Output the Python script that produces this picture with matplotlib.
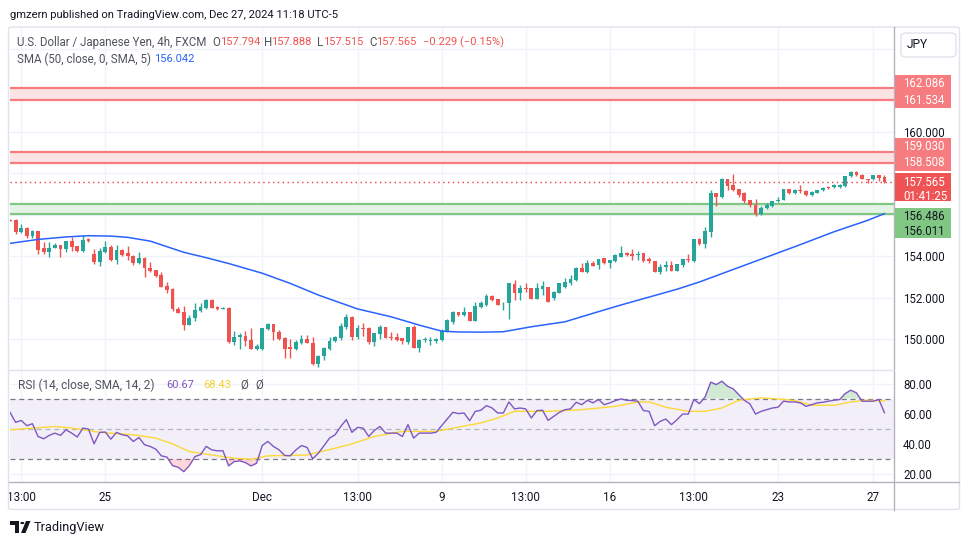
import matplotlib
matplotlib.use("Agg")
import matplotlib.pyplot as plt
from matplotlib.patches import Rectangle, FancyBboxPatch, Polygon, Circle
from matplotlib.lines import Line2D
import numpy as np

plt.rcParams['font.family'] = ['Roboto', 'DejaVu Sans']

# ---------------- data ----------------
opens = [155.75, 155.72, 155.16, 155.37, 154.95, 155.19, 154.39, 154.18, 154.39, 154.52,
         154.33, 154.71, 154.47, 154.23, 154.80, 154.09, 153.70, 154.18, 154.42, 153.83,
         154.28, 154.15, 154.02, 153.67, 153.91, 153.42, 153.32, 153.08, 152.55, 152.42,
         151.46, 151.29, 150.68, 151.00, 151.36, 151.51, 151.88, 151.56, 151.45, 151.51,
         149.85, 150.08, 150.15, 149.96, 149.51, 149.53, 150.47, 150.73, 150.36, 150.06,
         149.61, 149.53, 149.80, 150.01, 149.80, 148.81, 149.16, 149.51, 149.88, 150.04,
         150.60, 151.05, 150.09, 150.55, 150.55, 149.85, 150.25, 150.60, 150.12, 150.12,
         150.04, 149.86, 150.60, 149.59, 149.93, 149.89, 149.90, 149.93, 150.36, 150.84,
         151.32, 151.16, 151.29, 150.89, 151.53, 151.64, 152.07, 151.91, 151.72, 151.72,
         152.65, 152.23, 152.44, 152.44, 151.93, 152.40, 152.49, 151.96, 152.23, 152.52,
         152.68, 152.84, 153.44, 153.25, 153.68, 153.56, 153.91, 153.64, 153.77, 153.96,
         154.16, 154.10, 154.05, 154.13, 153.84, 153.77, 153.25, 153.45, 153.55, 153.29,
         153.56, 153.88, 153.77, 154.81, 154.57, 155.17, 157.05, 156.85, 157.69, 157.41,
         157.25, 157.03, 156.72, 156.45, 156.01, 156.33, 156.40, 156.64, 156.72, 157.21,
         157.05, 157.17, 157.13, 156.93, 157.05, 157.17, 157.33, 157.33, 157.33, 157.37,
         157.84, 158.05, 157.92, 157.73, 157.69, 157.89, 157.794]
highs = [155.77, 155.80, 155.53, 155.40, 155.27, 155.21, 154.70, 154.66, 154.65, 154.55,
         154.73, 154.92, 154.50, 155.00, 154.86, 154.36, 154.38, 154.71, 154.55, 154.52,
         154.33, 154.47, 154.05, 154.17, 153.93, 153.69, 153.35, 153.22, 152.74, 152.46,
         151.53, 151.60, 151.16, 151.75, 151.75, 151.94, 151.94, 151.61, 151.56, 151.56,
         150.39, 150.31, 150.39, 150.52, 149.77, 150.52, 150.76, 150.73, 150.41, 150.12,
         150.00, 149.96, 150.18, 150.17, 150.12, 149.24, 149.61, 150.09, 150.15, 150.76,
         151.21, 151.13, 150.68, 150.79, 150.60, 150.31, 150.68, 150.60, 150.33, 150.28,
         150.04, 150.60, 150.68, 150.00, 150.12, 150.09, 150.04, 150.47, 150.95, 151.37,
         151.32, 151.53, 151.30, 151.80, 151.85, 152.17, 152.12, 151.91, 151.76, 152.68,
         152.84, 152.58, 152.68, 152.44, 152.68, 152.80, 152.49, 152.32, 152.72, 152.92,
         153.08, 153.49, 153.64, 153.80, 153.76, 153.88, 153.91, 153.80, 154.08, 154.48,
         154.19, 154.35, 154.26, 154.13, 153.96, 153.77, 153.61, 153.76, 153.76, 153.61,
         153.88, 154.08, 154.81, 154.88, 155.41, 157.17, 157.05, 157.77, 157.73, 157.93,
         157.25, 157.09, 156.72, 156.73, 156.40, 156.57, 156.64, 156.85, 157.25, 157.25,
         157.25, 157.44, 157.17, 157.12, 157.17, 157.33, 157.37, 157.45, 157.49, 157.84,
         158.09, 158.09, 157.93, 157.73, 157.89, 157.92, 157.888]
lows = [155.67, 155.08, 155.11, 154.86, 154.86, 154.10, 154.12, 153.93, 154.37, 153.96,
        154.20, 154.25, 154.20, 154.21, 154.68, 153.61, 153.53, 154.15, 153.77, 153.61,
        153.99, 153.80, 153.58, 153.61, 153.00, 153.22, 153.00, 152.49, 152.23, 151.37,
        151.24, 150.43, 150.66, 150.87, 151.32, 151.46, 151.51, 151.40, 151.44, 149.80,
        149.72, 149.53, 149.67, 149.53, 149.45, 149.48, 150.44, 149.96, 149.94, 149.08,
        149.08, 149.48, 149.75, 149.80, 148.73, 148.63, 148.97, 149.48, 149.85, 149.96,
        150.49, 149.96, 150.01, 150.15, 149.77, 149.64, 150.01, 150.04, 149.93, 149.90,
        149.77, 149.77, 149.59, 149.35, 149.85, 149.69, 149.83, 149.91, 150.33, 150.71,
        151.11, 151.11, 150.89, 150.89, 151.48, 151.61, 151.85, 151.64, 151.40, 150.95,
        151.88, 151.88, 152.28, 151.93, 151.93, 152.10, 151.80, 151.90, 152.20, 152.45,
        152.60, 152.80, 153.25, 153.17, 153.53, 153.36, 153.61, 153.44, 153.72, 153.93,
        154.00, 153.80, 153.80, 153.72, 153.67, 153.25, 153.13, 153.29, 153.29, 153.29,
        153.48, 153.72, 153.72, 154.53, 154.41, 154.92, 156.41, 156.81, 157.17, 157.13,
        156.85, 156.57, 156.37, 155.92, 155.99, 156.29, 156.37, 156.61, 156.69, 157.01,
        157.01, 157.05, 156.90, 156.89, 157.04, 157.13, 157.21, 157.29, 157.29, 157.33,
        157.81, 157.85, 157.69, 157.53, 157.65, 157.61, 157.515]
closes = [155.69, 155.16, 155.37, 154.95, 155.21, 154.31, 154.18, 154.41, 154.52, 154.33,
          154.71, 154.44, 154.23, 154.76, 154.72, 153.70, 154.25, 154.42, 153.83, 154.28,
          154.07, 154.01, 153.67, 153.90, 153.40, 153.27, 153.05, 152.52, 152.36, 151.43,
          151.27, 150.68, 151.00, 151.40, 151.56, 151.88, 151.51, 151.45, 151.51, 149.85,
          150.12, 150.17, 149.91, 149.53, 149.67, 150.52, 150.71, 150.33, 149.99, 149.53,
          149.53, 149.85, 150.01, 149.80, 148.81, 149.16, 149.56, 149.91, 150.12, 150.63,
          151.05, 150.09, 150.55, 150.47, 149.85, 150.28, 150.60, 150.07, 150.07, 149.96,
          149.88, 150.57, 149.59, 149.93, 149.99, 149.94, 149.99, 150.39, 150.92, 151.32,
          151.16, 151.29, 150.89, 151.59, 151.72, 152.07, 151.88, 151.64, 151.75, 152.68,
          152.23, 152.44, 152.39, 151.93, 152.44, 152.55, 151.80, 152.28, 152.68, 152.76,
          152.87, 153.44, 153.25, 153.64, 153.53, 153.88, 153.64, 153.80, 154.05, 154.16,
          154.03, 154.00, 154.10, 153.77, 153.77, 153.25, 153.48, 153.55, 153.29, 153.61,
          153.85, 153.80, 154.81, 154.57, 155.20, 157.05, 156.85, 157.69, 157.36, 157.20,
          156.93, 156.65, 156.45, 156.01, 156.33, 156.45, 156.64, 156.72, 157.21, 157.05,
          157.20, 157.12, 156.93, 157.09, 157.17, 157.28, 157.28, 157.41, 157.44, 157.84,
          158.05, 157.89, 157.69, 157.68, 157.89, 157.77, 157.565]

# SMA(50) line (bar index, value)
sma_idx = [0, 5, 10, 14, 18, 21, 25, 28, 31, 35, 39, 45, 50, 55, 62, 68, 73, 77, 80, 84,
           88, 93, 99, 105, 109, 114, 119, 123, 127, 131, 135, 141, 147, 153, 156]
sma_val = [154.61, 154.80, 154.92, 154.98, 154.96, 154.90, 154.72, 154.45, 154.18, 153.92,
           153.64, 153.17, 152.68, 152.12, 151.45, 151.07, 150.67, 150.38, 150.34, 150.33,
           150.35, 150.59, 150.83, 151.32, 151.64, 152.02, 152.40, 152.75, 153.15, 153.55,
           153.95, 154.55, 155.17, 155.72, 156.042]

# RSI(14) per bar
rsi = [60.95, 54.3, 55.6, 52.1, 53.4, 45.0, 43.45, 45.7, 47.2, 45.7,
       49.4, 47.2, 44.6, 50.5, 49.9, 40.1, 47.7, 47.9, 43.2, 47.7,
       46.1, 45.4, 41.7, 44.3, 39.5, 38.4, 36.6, 32.2, 31.3, 25.7,
       24.6, 21.7, 25.7, 31.7, 33.0, 38.4, 36.1, 35.5, 35.5, 25.5,
       28.4, 28.8, 27.7, 25.5, 27.3, 39.0, 41.7, 38.4, 36.1, 32.4,
       32.2, 36.1, 39.0, 37.7, 30.2, 33.9, 38.8, 43.9, 46.1, 51.6,
       56.1, 47.7, 51.0, 50.5, 45.0, 49.0, 51.6, 47.2, 47.2, 47.2,
       45.0, 52.8, 43.9, 47.2, 47.2, 47.2, 47.7, 52.1, 56.5, 60.95,
       60.1, 60.5, 55.4, 61.6, 62.3,
       65.4, 63.8, 60.5, 60.5, 67.8, 63.2, 63.8, 63.2, 57.2, 62.1,
       62.3, 55.6, 58.3, 60.9, 62.7, 63.2, 67.6, 66.0, 68.9, 67.2,
       69.4, 66.0, 67.2, 68.7, 69.8, 68.9, 68.7, 68.3, 62.1, 61.6,
       52.1, 55.0, 56.5, 52.8, 56.1, 59.8, 59.8, 69.4, 66.7, 71.1,
       80.9, 79.3, 81.5, 78.2, 76.5, 72.7, 68.9, 66.5, 59.8, 61.6,
       62.7, 63.8, 64.3, 68.3, 67.8, 67.8, 67.2, 64.9, 66.0, 67.2,
       67.6, 68.3, 68.9, 69.4, 73.4, 75.6, 73.8, 68.3, 68.3, 68.3,
       69.4, 60.67]

# RSI-based SMA (bar index, value)
rsi_sma_idx = [0, 4, 8, 12, 16, 22, 26, 29, 32, 35, 40, 43, 46, 50, 53, 58, 61, 65, 70, 76,
               80, 84, 87, 90, 96, 102, 108, 112, 114, 117, 121, 124, 127, 130, 134, 137,
               140, 143, 147, 150, 153, 156]
rsi_sma_val = [49.4, 50.5, 51.6, 50.1, 47.7, 46.1, 43.9, 40.1, 35.0, 33.3, 30.6, 29.9, 32.2,
               32.4, 32.8, 37.2, 40.1, 45.0, 48.3, 48.3, 51.2, 53.9, 57.2, 61.6, 61.6, 62.7,
               64.9, 67.8, 67.8, 64.3, 61.6, 61.6, 63.8, 68.9, 70.5, 69.8, 68.7, 65.6, 65.6,
               67.8, 68.9, 68.43]

# zones
red_zones = [(161.534, 162.086), (158.508, 159.030)]
green_zone = (156.011, 156.486)
last_price = 157.565
countdown = "01:41:25"

# time axis
time_tick_idx = [2, 17, 45, 62, 77, 92, 107, 122, 137, 154]
time_tick_lab = ["13:00", "25", "Dec", "13:00", "9", "13:00", "16", "13:00", "23", "27"]
price_ticks = [150, 152, 154, 156, 158, 160, 162, 164]
price_tick_shown = [150, 152, 154, 160]       # the others sit under labels/buttons
rsi_ticks = [20, 40, 60, 80]

# ---------------- figure ----------------
W, H = 970, 545
fig = plt.figure(figsize=(W / 100, H / 100), dpi=100)
fig.patch.set_facecolor('white')

UP, DOWN = '#26A69A', '#EF5350'
GRID = '#F0F3FA'
TXT = '#131722'
GRAY = '#50535E'

PL, PR = 10, 894
MT, MB = 27, 369.5
RT, RB = 370.5, 482.3

ax = fig.add_axes([PL / W, 1 - MB / H, (PR - PL) / W, (MB - MT) / H])
axr = fig.add_axes([PL / W, 1 - RB / H, (PR - PL) / W, (RB - RT) / H], sharex=ax)

n = len(closes)
x = np.arange(n)
o = np.array(opens); c = np.array(closes); hi = np.array(highs); lo = np.array(lows)
up = c >= o
cols = np.where(up, UP, DOWN)

ax.set_xlim(0, 157.7)
ax.set_ylim(148.53, 165.04)
axr.set_ylim(14.68, 88.6)

for a in (ax, axr):
    for s in a.spines.values():
        s.set_visible(False)
    a.set_facecolor('white')
    a.set_axisbelow(True)
    a.grid(True, color=GRID, lw=1)
    a.yaxis.tick_right()
    a.tick_params(axis='y', length=0, pad=6.5, labelsize=8.3, labelcolor=TXT)

ax.set_yticks(price_ticks)
ax.set_yticklabels([f"{v:.3f}" if v in price_tick_shown else "" for v in price_ticks])
axr.set_yticks(rsi_ticks)
axr.set_yticklabels([f"{v:.2f}" for v in rsi_ticks])
axr.set_xticks(time_tick_idx)
axr.set_xticklabels(time_tick_lab)
ax.tick_params(axis='x', length=0, labelbottom=False)
axr.tick_params(axis='x', length=0, pad=6.5, labelsize=8.4, labelcolor=TXT)

# zones
for lo_z, hi_z in red_zones:
    ax.axhspan(lo_z, hi_z, color='#FDE3E4', zorder=1, lw=0)
    ax.axhline(lo_z, color='#F77C80', lw=1.6, zorder=1.5)
    ax.axhline(hi_z, color='#F77C80', lw=1.6, zorder=1.5)
ax.axhspan(green_zone[0], green_zone[1], color='#E5F3E6', zorder=1, lw=0)
ax.axhline(green_zone[0], color='#81C784', lw=1.6, zorder=1.5)
ax.axhline(green_zone[1], color='#81C784', lw=1.6, zorder=1.5)

# candles
ax.vlines(x, lo, hi, colors=cols, lw=1.0, zorder=3)
body_h = np.maximum(np.abs(c - o), 0.035)
ax.bar(x, body_h, bottom=np.minimum(o, c), width=0.68, color=cols, lw=0, zorder=3)

# SMA
ax.plot(sma_idx, sma_val, color='#2962FF', lw=1.1, zorder=4, solid_joinstyle='round')

# last price line
ax.axhline(last_price, color='#F23645', lw=1.0, ls=(0, (1, 2.5)), zorder=2)

# RSI pane
axr.axhspan(30, 70, color='#7E57C2', alpha=0.09, lw=0, zorder=0.5)
axr.axhline(70, color='#787B86', lw=0.9, ls=(0, (4, 3)), zorder=1)
axr.axhline(30, color='#787B86', lw=0.9, ls=(0, (4, 3)), zorder=1)
axr.axhline(50, color='#B2B5BE', lw=0.9, ls=(0, (4, 3)), zorder=1)
r = np.array(rsi)
axr.fill_between(x, r, 70, where=r > 70, interpolate=True, color='#4CAF50', alpha=0.25, lw=0, zorder=1.5)
axr.fill_between(x, r, 30, where=r < 30, interpolate=True, color='#F23645', alpha=0.2, lw=0, zorder=1.5)
axr.plot(rsi_sma_idx, rsi_sma_val, color='#FDD835', lw=1.0, zorder=2)
axr.plot(x, r, color='#7E57C2', lw=1.0, zorder=3)


# ---------------- figure-level decorations ----------------
def fline(x0, y0, x1, y1, color, lw=1.0):
    fig.add_artist(Line2D([x0 / W, x1 / W], [1 - y0 / H, 1 - y1 / H], color=color, lw=lw))


def ftext(px, py, s, color=TXT, size=8.6, ha='left', **kw):
    return fig.text(px / W, 1 - py / H, s, color=color, fontsize=size, ha=ha, va='center', **kw)


# outer frame
fig.add_artist(FancyBboxPatch((8.5 / W, 1 - 509.5 / H), (951 / W), (482.5 / H),
                              boxstyle='round,pad=0,rounding_size=0.004',
                              fc='none', ec='#E0E3EB', lw=1.0, transform=fig.transFigure))
fline(PR, 27, PR, 509.5, '#B2B5BE')
fline(9, RB, 959, RB, '#B2B5BE')
fline(9, MB + 0.5, PR, MB + 0.5, '#E0E3EB')

# header & legends (pieces placed where the reference shows them)
ftext(10, 15, "gmzern published on TradingView.com, Dec 27, 2024 11:18 UTC-5", TXT, 8.1)
ftext(17, 42.3, "U.S. Dollar / Japanese Yen, 4h, FXCM", GRAY, 8.3)
NUM = 8.0
for px, s, col in [(212, "O", GRAY), (220, "157.794", DOWN), (264, "H", GRAY),
                   (271, "157.888", DOWN), (317, "L", GRAY), (323, "157.515", DOWN),
                   (369, "C", GRAY), (376, "157.565", DOWN),
                   (423, "\u22120.229 (\u22120.15%)", DOWN)]:
    ftext(px, 42.3, s, col, NUM if col == DOWN else 8.3)
ftext(17, 59.3, "SMA (50, close, 0, SMA, 5)", GRAY, 8.3)
ftext(154, 59.3, "156.042", '#2962FF', NUM)
ftext(18, 385, "RSI (14, close, SMA, 14, 2)", GRAY, 8.6)
ftext(166, 385, "60.67", '#7E57C2', NUM)
ftext(203, 385, "68.43", '#F2D22E', NUM)
ftext(240, 385, "\u00d8", GRAY, 8.3)
ftext(255, 385, "\u00d8", GRAY, 8.3)

# JPY button
fig.add_artist(FancyBboxPatch((901 / W, 1 - 57 / H), 55 / W, 24 / H,
                              boxstyle='round,pad=0,rounding_size=0.006',
                              fc='white', ec='#E0E3EB', lw=1.0, transform=fig.transFigure))
ftext(907, 45, "JPY", TXT, 8.6)


# price-axis labels (placed at the values' screen positions)
def ypx(v):
    return H - ax.transData.transform((0, v))[1]


def label_box(y0, y1, fc):
    fig.add_artist(Rectangle((895 / W, 1 - y1 / H), 56 / W, (y1 - y0) / H,
                             fc=fc, ec='none', transform=fig.transFigure, zorder=2))


RZ = '#F77C80'
for (lo_z, hi_z) in red_zones:
    yt, yb = ypx(hi_z) - 5, ypx(lo_z) + 0.3
    label_box(yt - 8.7, yb + 8, RZ)
    ftext(903, yt, f"{hi_z:.3f}", 'white', 8.3, zorder=3)
    ftext(903, yb, f"{lo_z:.3f}", 'white', 8.3, zorder=3)

yl = ypx(last_price)
label_box(yl - 8.6, yl + 19, '#F05354')
ftext(903, yl, f"{last_price:.3f}", 'white', 8.3, zorder=3)
ftext(903, yl + 14, countdown, 'white', 8.3, zorder=3)

yg1 = yl + 34
label_box(yg1 - 8.4, yg1 + 22, '#81C784')
ftext(903, yg1, f"{green_zone[1]:.3f}", TXT, 8.3, zorder=3)
ftext(903, yg1 + 15, f"{green_zone[0]:.3f}", TXT, 8.3, zorder=3)

# TradingView logo
logo_col = TXT
fig.add_artist(Polygon([(10 / W, 1 - 521 / H), (19 / W, 1 - 521 / H), (19 / W, 1 - 533 / H),
                        (15 / W, 1 - 533 / H), (15 / W, 1 - 525 / H), (10 / W, 1 - 525 / H)],
                       closed=True, fc=logo_col, ec='none', transform=fig.transFigure))
fig.add_artist(Circle((22.3 / W, 1 - 523 / H), 2.0 / W, fc=logo_col, ec='none',
                      transform=fig.transFigure))
fig.add_artist(Polygon([(26 / W, 1 - 521 / H), (30.5 / W, 1 - 521 / H), (25.5 / W, 1 - 533 / H),
                        (21 / W, 1 - 533 / H)],
                       closed=True, fc=logo_col, ec='none', transform=fig.transFigure))
ftext(34, 527, "TradingView", TXT, 9.2)

fig.savefig("out.png", dpi=100)
